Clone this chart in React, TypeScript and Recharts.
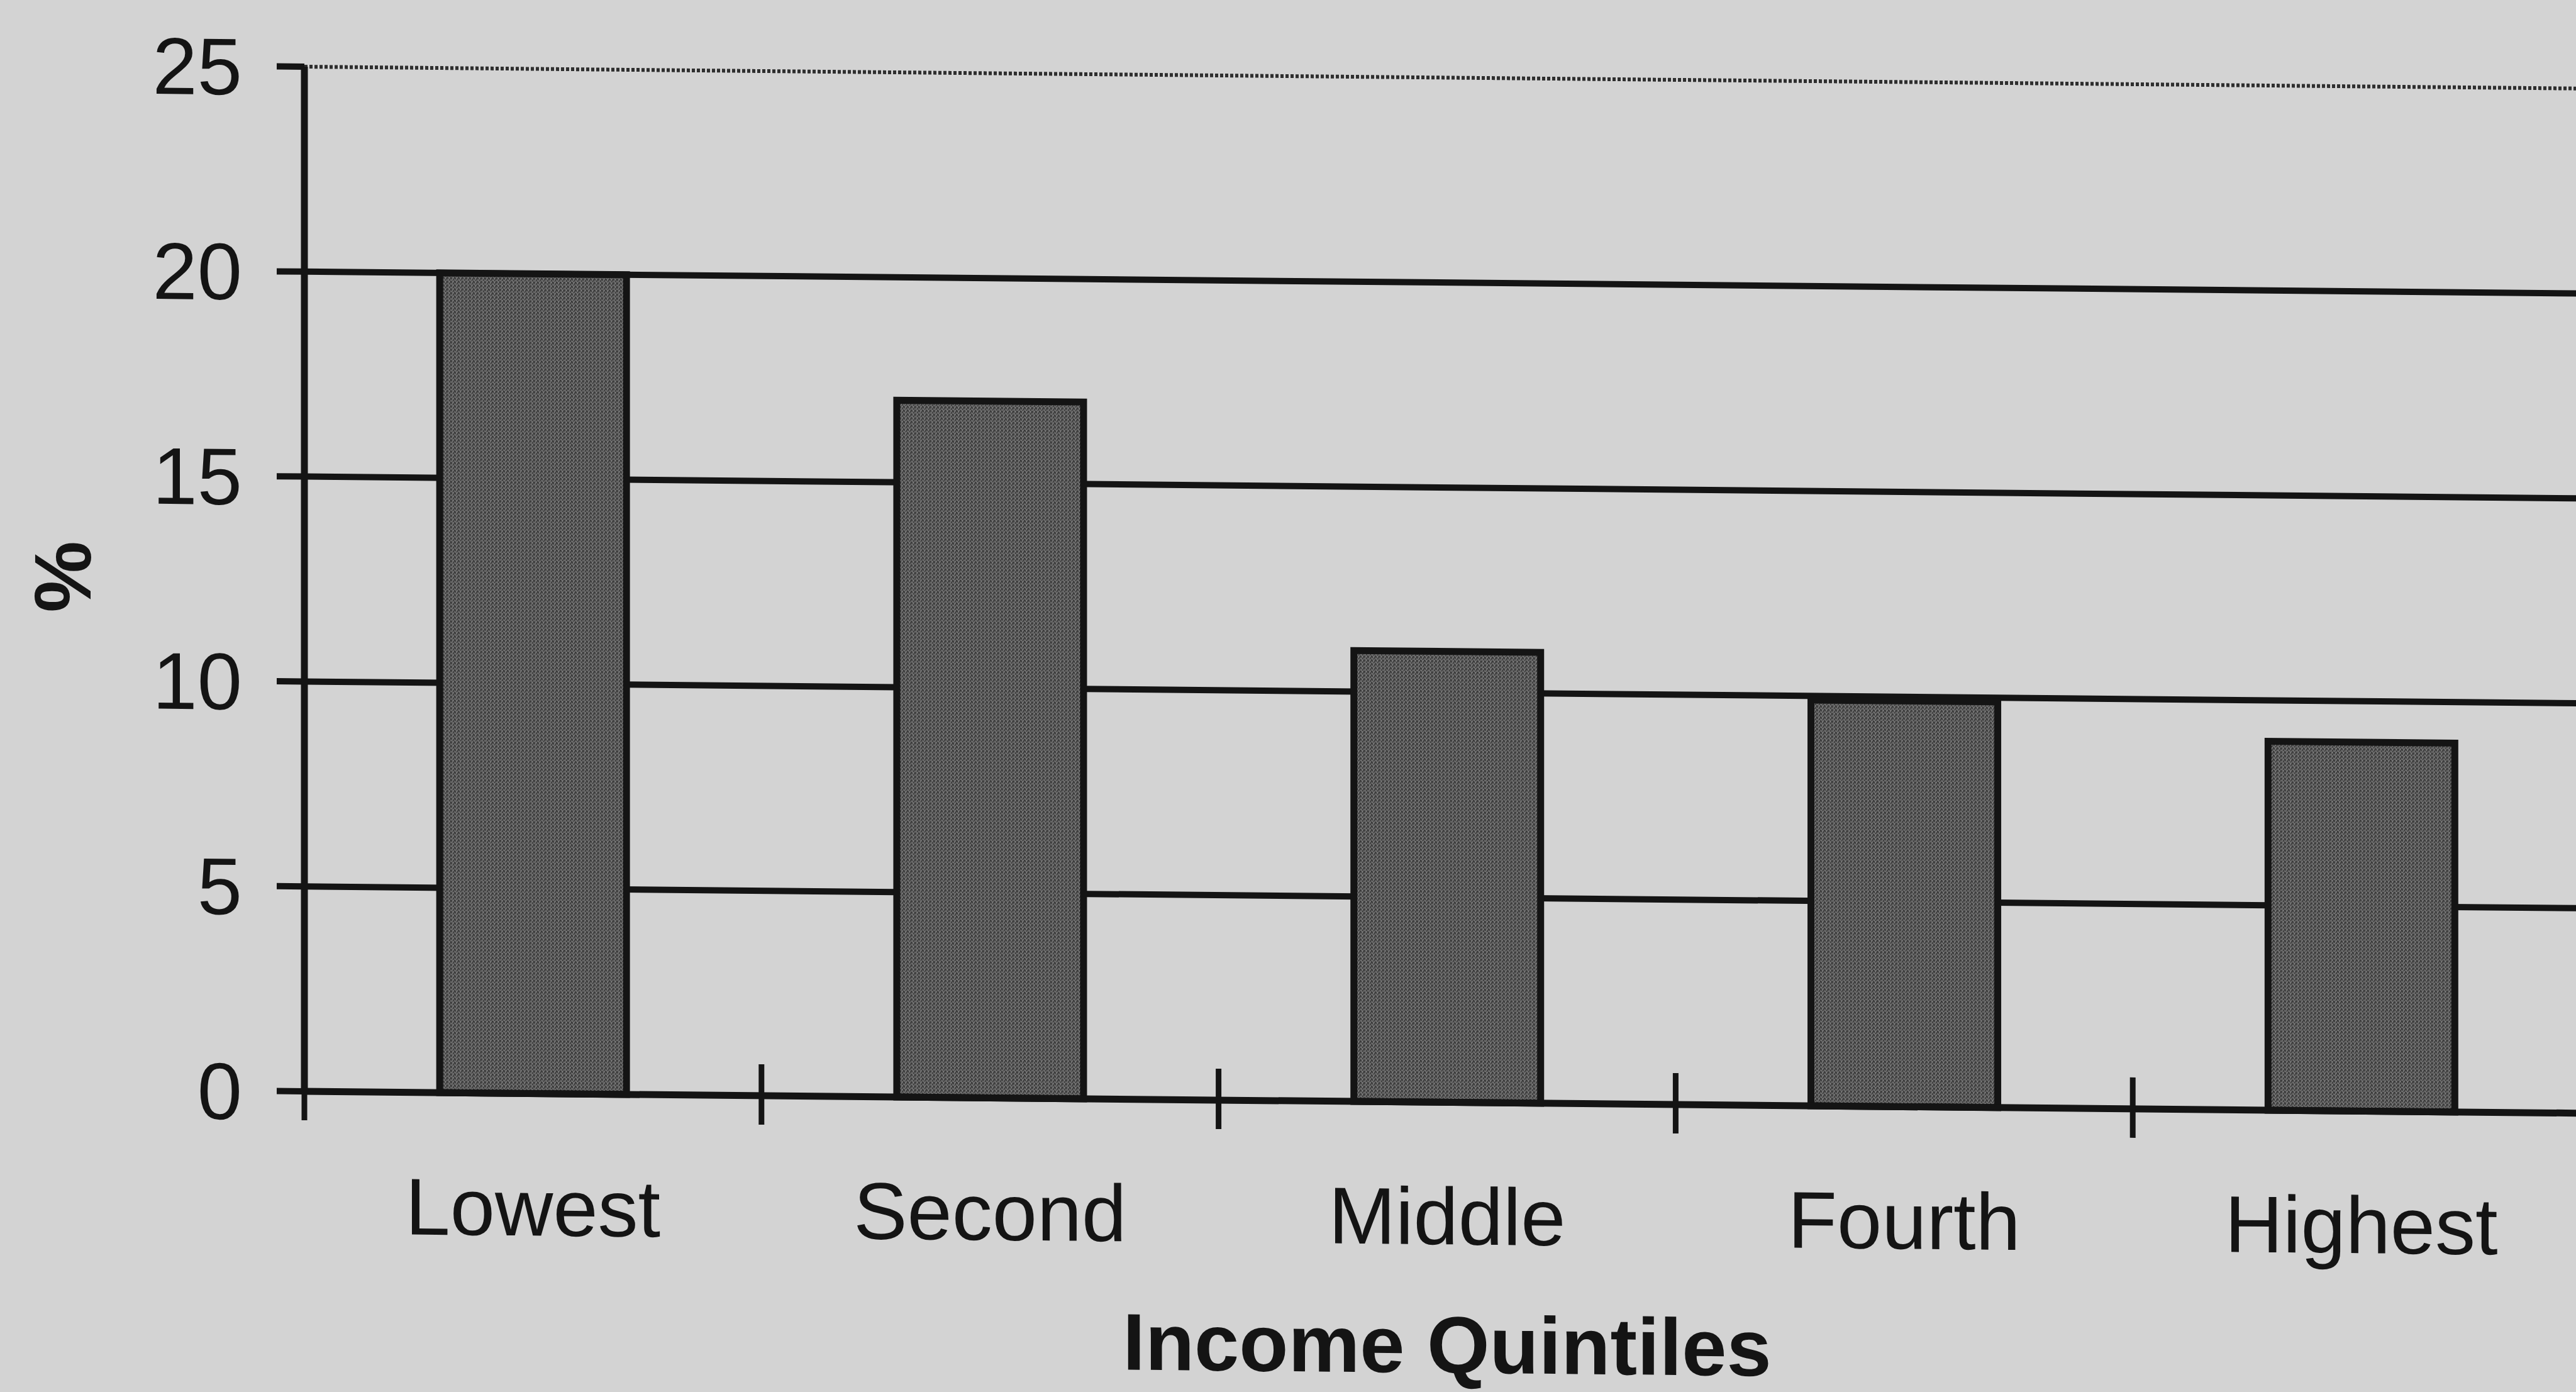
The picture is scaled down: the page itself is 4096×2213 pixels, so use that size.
import React from 'react';
import { BarChart, Bar, XAxis, YAxis, CartesianGrid, Label } from 'recharts';

const categories = ['Lowest', 'Second', 'Middle', 'Fourth', 'Highest'];
const shares = [20, 17, 11, 9.9, 9];
const yTicks = [0, 5, 10, 15, 20, 25];
const solidGridValues = [5, 10, 15, 20];
const dottedGridValues = [25];

const data = categories.map((name, i) => ({ name, share: shares[i] }));

const INK = '#141414';
const FONT = '"Liberation Sans", Arial, Helvetica, sans-serif';
const tickStyle = { fill: INK, fontSize: 128, fontFamily: FONT };
const LABEL_GAP = 135;

// category label plus the tick marks that sit on the band edges
const QuintileTick = (props: any) => {
  const { x, y, payload, index } = props;
  const half = payload.offset || 0;
  const axisY = y - LABEL_GAP;
  const edges = [x - half];
  if (index === categories.length - 1) edges.push(x + half);
  return (
    <g>
      {edges.map((ex) => (
        <line key={ex} x1={ex} x2={ex} y1={axisY - 50} y2={axisY + 46} stroke={INK} strokeWidth={9} />
      ))}
      <text x={x} y={y} dy="0.71em" textAnchor="middle" {...tickStyle}>
        {payload.value}
      </text>
    </g>
  );
};

// bold x axis title under the quintile labels
const renderTitle = (props: any) => {
  const vb = props.viewBox || {};
  return (
    <text
      x={vb.x + vb.width / 2}
      y={vb.y + 430}
      textAnchor="middle"
      fill={INK}
      fontSize={128}
      fontWeight="bold"
      fontFamily={FONT}
    >
      Income Quintiles
    </text>
  );
};

// rotated "%" beside the value axis
const renderUnit = (props: any) => {
  const vb = props.viewBox || {};
  const cx = vb.x + 100;
  const cy = vb.y + vb.height / 2;
  return (
    <text
      x={cx}
      y={cy}
      transform={`rotate(-90, ${cx}, ${cy})`}
      textAnchor="middle"
      dominantBaseline="central"
      fill={INK}
      fontSize={128}
      fontWeight="bold"
      fontFamily={FONT}
    >
      %
    </text>
  );
};

const App: React.FC = () => {
  return (
    <div
      style={{
        position: 'fixed',
        left: 0,
        top: 0,
        width: 4096,
        height: 2213,
        overflow: 'hidden',
        background: '#d3d3d3',
      }}
    >
      {/* the printed page sits slightly skewed */}
      <div style={{ transform: 'skewY(0.55deg)', transformOrigin: '484px 1735px' }}>
        <BarChart
          width={4118}
          height={2213}
          data={data}
          margin={{ top: 106, right: 0, bottom: 477, left: 0 }}
          barCategoryGap="29.6%"
        >
          <defs>
            <pattern id="weave" width="6" height="6" patternUnits="userSpaceOnUse">
              <rect width="6" height="6" fill="#686868" />
              <path d="M0 6 L3 0 L6 6" fill="none" stroke="#333333" strokeWidth="1.6" />
              <path d="M0 3 L1.5 0 M4.5 6 L6 3" fill="none" stroke="#949494" strokeWidth="0.9" />
            </pattern>
          </defs>
          <CartesianGrid
            xAxisId="cat"
            vertical={false}
            horizontalValues={solidGridValues}
            stroke={INK}
            strokeWidth={10}
          />
          <CartesianGrid
            xAxisId="cat"
            vertical={false}
            horizontalValues={dottedGridValues}
            stroke="#2e2e2e"
            strokeWidth={6}
            strokeDasharray="5 3"
          />
          <YAxis
            type="number"
            domain={[0, 25]}
            ticks={yTicks}
            interval={0}
            width={484}
            axisLine={{ stroke: INK, strokeWidth: 11 }}
            tickLine={{ stroke: INK, strokeWidth: 10 }}
            tickSize={44}
            tickMargin={55}
            tick={tickStyle}
          >
            <Label content={renderUnit} />
          </YAxis>
          <XAxis
            xAxisId="cat"
            dataKey="name"
            height={1}
            interval={0}
            axisLine={{ stroke: INK, strokeWidth: 11 }}
            tickLine={false}
            tickSize={0}
            tickMargin={LABEL_GAP}
            tick={<QuintileTick />}
          >
            <Label content={renderTitle} />
          </XAxis>
          <Bar
            xAxisId="cat"
            dataKey="share"
            fill="url(#weave)"
            stroke={INK}
            strokeWidth={11}
            isAnimationActive={false}
          />
        </BarChart>
      </div>
    </div>
  );
};

export default App;
